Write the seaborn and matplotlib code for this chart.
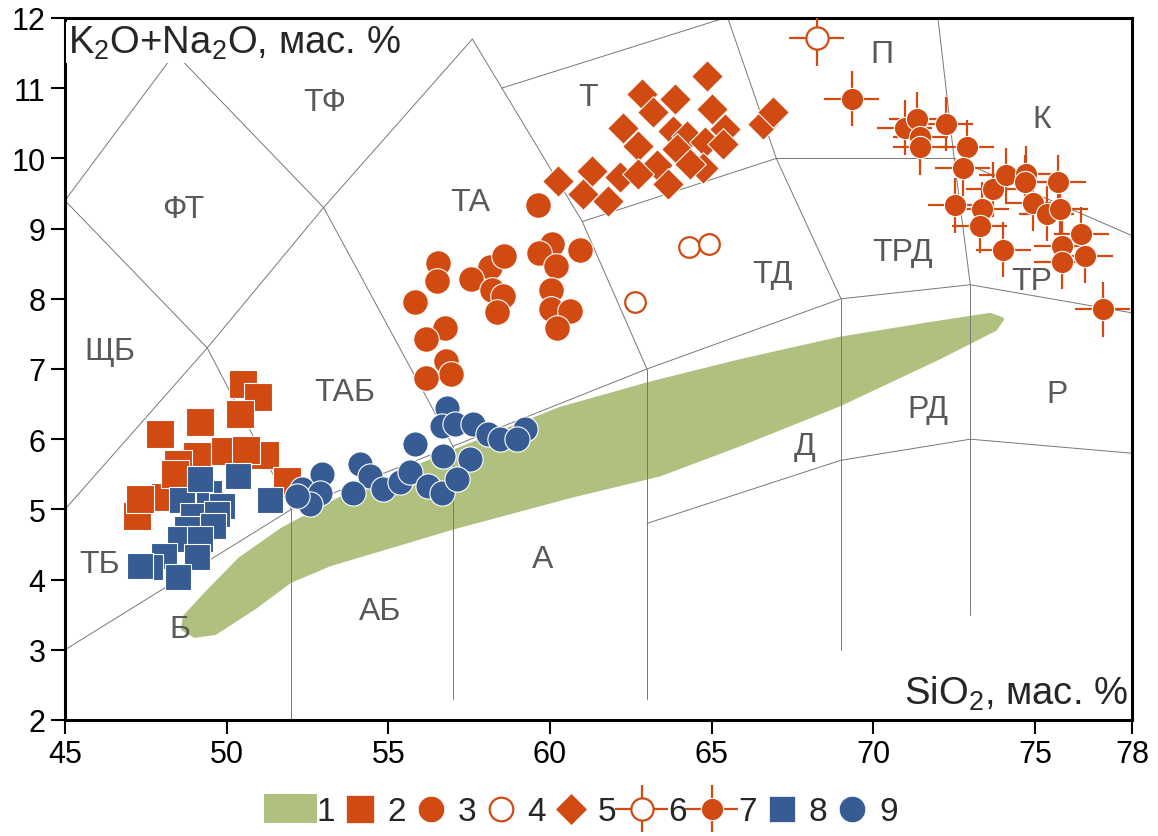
import matplotlib
matplotlib.use("Agg")
import matplotlib.pyplot as plt
import seaborn as sns
from matplotlib.lines import Line2D
from matplotlib.patches import Patch, Rectangle
from matplotlib.container import ErrorbarContainer
from matplotlib.legend_handler import HandlerErrorbar, HandlerPatch

# ---- data ----
# field 1 (green outline), upper edge then lower edge
field_x = [48.71, 49.33, 50.41, 51.74, 53.51, 55.36, 57.06, 60.31, 63.09, 65.88, 68.97, 71.76, 73.61, 73.98,
           73.77, 72.06, 68.97, 65.88, 63.40, 60.62, 57.06, 53.20, 51.96, 50.88, 49.64, 49.02, 48.65]
field_y = [3.47, 3.78, 4.29, 4.72, 5.15, 5.50, 5.83, 6.43, 6.79, 7.11, 7.43, 7.64, 7.77, 7.71,
           7.57, 7.17, 6.50, 5.93, 5.50, 5.19, 4.75, 4.22, 3.98, 3.61, 3.24, 3.20, 3.30]

# 2 - orange squares
sio2_2 = [50.51, 50.97, 50.41, 49.18, 47.94, 49.08, 49.95, 51.19, 51.87, 47.23, 48.50, 48.09, 47.32, 48.4, 50.6]
alk_2 = [6.79, 6.60, 6.36, 6.25, 6.07, 5.76, 5.83, 5.78, 5.40, 4.91, 5.65, 5.18, 5.15, 5.5, 5.85]
# 3 - orange circles
sio2_3 = [59.64, 60.05, 59.67, 60.93, 60.19, 56.55, 56.50, 58.15, 58.58, 57.55, 58.20, 58.54, 58.35,
          60.02, 60.02, 60.62, 60.21, 55.83, 56.75, 56.17, 56.80, 56.93, 56.16]
alk_3 = [9.33, 8.78, 8.65, 8.69, 8.47, 8.51, 8.26, 8.45, 8.61, 8.28, 8.12, 8.04, 7.81,
         8.12, 7.85, 7.82, 7.59, 7.95, 7.59, 7.43, 7.12, 6.93, 6.87]
# 4 - open circles
sio2_4 = [64.30, 64.93, 62.63]
alk_4 = [8.74, 8.78, 7.96]
# 5 - diamonds
sio2_5 = [64.85, 62.84, 63.87, 65.00, 66.60, 66.91, 63.20, 62.27, 63.82, 65.41, 64.23, 62.73, 63.92, 64.80,
          65.36, 63.30, 64.74, 60.26, 61.29, 62.17, 62.73, 61.03, 61.80, 63.66, 64.33]
alk_5 = [11.18, 10.92, 10.85, 10.70, 10.49, 10.66, 10.66, 10.44, 10.39, 10.42, 10.32, 10.18, 10.13, 10.23,
         10.21, 9.90, 9.87, 9.68, 9.82, 9.73, 9.78, 9.49, 9.40, 9.64, 9.92]
# 6 - open circle with error cross
sio2_6 = [68.25]
alk_6 = [11.71]
# 7 - filled circles with error crosses
sio2_7 = [69.33, 70.98, 71.34, 71.45, 71.45, 72.24, 72.89, 72.77, 72.53, 73.35, 73.30, 73.71, 74.11,
          74.72, 74.69, 74.93, 75.36, 75.72, 75.78, 74.02, 76.43, 75.83, 75.83, 76.55, 77.10]
alk_7 = [10.85, 10.44, 10.56, 10.30, 10.16, 10.49, 10.16, 9.86, 9.33, 9.28, 9.04, 9.56, 9.76,
         9.78, 9.66, 9.36, 9.21, 9.66, 9.28, 8.70, 8.92, 8.75, 8.53, 8.61, 7.85]
err_sio2 = 0.85
err_alk = 0.39
# 8 - blue squares
sio2_8 = [50.36, 51.34, 48.61, 49.45, 49.18, 49.85, 48.97, 49.69, 48.76, 49.59, 48.56, 49.18, 48.06,
          49.07, 47.63, 48.50, 47.32]
alk_8 = [5.48, 5.14, 5.14, 5.23, 5.43, 5.05, 4.91, 4.93, 4.72, 4.77, 4.58, 4.58, 4.34,
         4.32, 4.18, 4.03, 4.20]
# 9 - blue circles
sio2_9 = [56.82, 56.65, 57.06, 57.63, 58.09, 58.45, 59.23, 58.97, 55.83, 56.70, 57.53, 54.12, 54.43,
          52.94, 52.32, 52.89, 53.92, 54.85, 55.36, 55.67, 56.24, 56.65, 57.12, 52.58, 52.18]
alk_9 = [6.45, 6.19, 6.22, 6.22, 6.07, 6.00, 6.15, 6.00, 5.93, 5.76, 5.72, 5.65, 5.48,
         5.50, 5.29, 5.24, 5.24, 5.29, 5.39, 5.53, 5.34, 5.24, 5.43, 5.08, 5.19]

# classification boundaries (polylines)
bnd_x = [
    [45, 52, 57, 63, 69, 73, 78],
    [45, 49.4, 53, 57.6],
    [57.6, 61.0, 63],
    [45, 48.4, 53],
    [45, 49.4, 52],
    [53, 57],
    [58.5, 65.4],
    [65.5, 67, 69],
    [61.0, 67],
    [67, 72.5],
    [72.0, 72.5, 73],
    [72.5, 78],
    [63, 69, 73, 78],
    [52, 52], [57, 57], [63, 63], [69, 69], [73, 73],
]
bnd_y = [
    [3, 5, 5.9, 7, 8, 8.2, 7.8],
    [5, 7.3, 9.3, 11.7],
    [11.7, 9.1, 7],
    [9.4, 11.5, 9.3],
    [9.4, 7.3, 5],
    [9.3, 5.9],
    [11.0, 12],
    [12, 10.0, 8],
    [9.1, 10.0],
    [10.0, 10.0],
    [12, 10.0, 8.2],
    [10.0, 8.9],
    [4.8, 5.7, 6.0, 5.8],
    [2, 5], [2.3, 5.9], [2.3, 7], [3.0, 8], [3.5, 8.2],
]

# field names
field_names = ['ТФ', 'ФТ', 'ЩБ', 'ТАБ', 'ТБ', 'Б', 'АБ', 'А', 'ТА', 'Т', 'ТД', 'Д', 'РД', 'Р', 'ТРД', 'ТР', 'К', 'П']
name_x = [53.04, 48.65, 46.39, 53.66, 46.08, 48.56, 54.74, 59.78, 57.53, 61.18, 66.87, 67.89, 71.69, 75.68, 70.92, 74.91, 75.22, 70.27]
name_y = [10.80, 9.28, 7.26, 6.67, 4.22, 3.30, 3.55, 4.29, 9.38, 10.87, 8.35, 5.90, 6.43, 6.64, 8.67, 8.25, 10.56, 11.49]

x_ticks = [45, 50, 55, 60, 65, 70, 75, 78]
y_ticks = [2, 3, 4, 5, 6, 7, 8, 9, 10, 11, 12]
legend_labels = ['1', '2', '3', '4', '5', '6', '7', '8', '9']

ORANGE = '#D04A12'
BLUE = '#375B93'
GREEN = '#B0C17F'

sns.set_theme(style='white')
plt.rcParams['font.family'] = ['Liberation Sans', 'DejaVu Sans']
plt.rcParams['mathtext.fontset'] = 'custom'
plt.rcParams['mathtext.rm'] = 'Liberation Sans'
plt.rcParams['mathtext.it'] = 'Liberation Sans:italic'
plt.rcParams['mathtext.bf'] = 'Liberation Sans:bold'

fig = plt.figure(figsize=(11.58, 8.37), dpi=100)
ax = fig.add_axes([0.0561, 0.1386, 0.9214, 0.8387])

# green field (round joins soften the outline)
ax.fill(field_x, field_y, facecolor=GREEN, edgecolor=GREEN, lw=3, joinstyle='round', zorder=1)

# boundaries
for bx, by in zip(bnd_x, bnd_y):
    ax.plot(bx, by, color='#777777', lw=0.7, zorder=2)

for name, nx, ny in zip(field_names, name_x, name_y):
    ax.text(nx, ny, name, fontsize=23, color='#595959', ha='center', va='center', zorder=3)

# data groups
sns.scatterplot(x=sio2_2, y=alk_2, marker='s', s=400, color=ORANGE, edgecolor='white', linewidth=0.8,
                legend=False, ax=ax, zorder=4)
sns.scatterplot(x=sio2_8, y=alk_8, marker='s', s=340, color=BLUE, edgecolor='white', linewidth=0.8,
                legend=False, ax=ax, zorder=5)
sns.scatterplot(x=sio2_3, y=alk_3, marker='o', s=340, color=ORANGE, edgecolor='white', linewidth=0.8,
                legend=False, ax=ax, zorder=4)
sns.scatterplot(x=sio2_9, y=alk_9, marker='o', s=330, color=BLUE, edgecolor='white', linewidth=0.8,
                legend=False, ax=ax, zorder=5)
sns.scatterplot(x=sio2_4, y=alk_4, marker='o', s=220, facecolor='white', edgecolor=ORANGE, linewidth=1.6,
                legend=False, ax=ax, zorder=4)
sns.scatterplot(x=sio2_5, y=alk_5, marker='D', s=260, color=ORANGE, edgecolor='white', linewidth=0.8,
                legend=False, ax=ax, zorder=4)

eb6 = ax.errorbar(sio2_6, alk_6, xerr=err_sio2, yerr=err_alk, fmt='o', ms=16, mfc='white', mec=ORANGE,
                  mew=1.6, ecolor=ORANGE, elinewidth=1.6, capsize=0, zorder=6)
eb7 = ax.errorbar(sio2_7, alk_7, xerr=err_sio2, yerr=err_alk, fmt='o', ms=16, mfc=ORANGE, mec='white',
                  mew=0.8, ecolor=ORANGE, elinewidth=1.6, capsize=0, zorder=6)

ax.set_xlim(45, 78)
ax.set_ylim(2, 12)
ax.set_xticks(x_ticks)
ax.set_yticks(y_ticks)
ax.tick_params(direction='out', length=10, width=1.5, labelsize=22, color='black', labelcolor='black',
               left=True, bottom=True, pad=4)
for sp in ax.spines.values():
    sp.set_visible(True)
    sp.set_color('black')
    sp.set_linewidth(2.2)
ax.set_xlabel('')
ax.set_ylabel('')

ax.text(0.003, 0.992, 'K$_2$O+Na$_2$O, мас. %', transform=ax.transAxes, fontsize=27.5, ha='left', va='top',
        bbox=dict(facecolor='white', edgecolor='none', pad=1.5), zorder=7)
ax.text(0.996, 0.012, 'SiO$_2$, мас. %', transform=ax.transAxes, fontsize=27.5, ha='right', va='bottom',
        bbox=dict(facecolor='white', edgecolor='none', pad=1.5), zorder=7)

# legend
def wide_patch(legend, orig_handle, xdescent, ydescent, width, height, fontsize):
    return Rectangle((-xdescent - 6, -ydescent - 2), width + 12, height + 4)

handles = [
    Patch(facecolor=GREEN, edgecolor='none'),
    Line2D([], [], ls='none', marker='s', ms=20, color=ORANGE, mec='white', mew=0.5),
    Line2D([], [], ls='none', marker='o', ms=19, color=ORANGE, mec='white', mew=0.5),
    Line2D([], [], ls='none', marker='o', ms=17, mfc='white', mec=ORANGE, mew=1.6),
    Line2D([], [], ls='none', marker='D', ms=16, color=ORANGE, mec='white', mew=0.5),
    eb6, eb7,
    Line2D([], [], ls='none', marker='s', ms=19, color=BLUE, mec='white', mew=0.5),
    Line2D([], [], ls='none', marker='o', ms=19, color=BLUE, mec='white', mew=0.5),
]
fig.legend(handles, legend_labels, loc='center', bbox_to_anchor=(0.505, 0.029), ncol=9, frameon=False,
           fontsize=24, handlelength=1.1, handletextpad=0.25, columnspacing=0.2,
           handler_map={ErrorbarContainer: HandlerErrorbar(xerr_size=0.8, yerr_size=0.7),
                        Patch: HandlerPatch(patch_func=wide_patch)})

fig.savefig('out.png', dpi=100)
